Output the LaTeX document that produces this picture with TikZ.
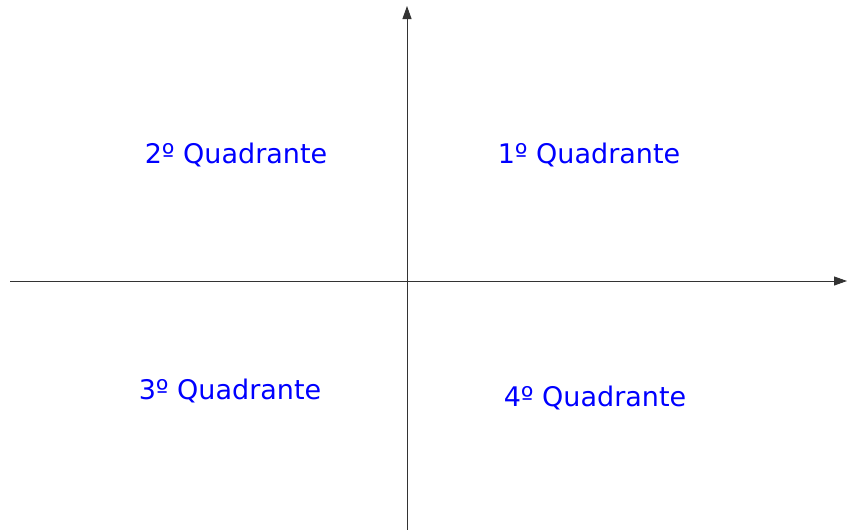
\documentclass[tikz,border=0pt]{standalone}
\usepackage{fontspec}
\setmainfont{DejaVu Sans}
\usetikzlibrary{arrows.meta}
\definecolor{axisgray}{HTML}{333333}
\tikzset{
  axis/.style={draw=axisgray, line width=0.9pt, -{Triangle[length=13pt,width=9pt]}},
  quad/.style={text=blue, font=\fontsize{27}{32}\selectfont, inner sep=0pt}
}
\begin{document}
\begin{tikzpicture}[x=1pt,y=-1pt]
\useasboundingbox (0,0) rectangle (847,530);
\coordinate (xs) at (10,281);
\coordinate (xe) at (847,281);
\coordinate (ys) at (407,530);
\coordinate (ye) at (407,6);
\draw[axis] (xs) -- (xe);
\draw[axis] (ys) -- (ye);
\node[quad] (q2) at (236,155) {2º Quadrante};
\node[quad] (q1) at (589,155) {1º Quadrante};
\node[quad] (q3) at (230,391) {3º Quadrante};
\node[quad] (q4) at (595,398) {4º Quadrante};
\end{tikzpicture}
\end{document}
